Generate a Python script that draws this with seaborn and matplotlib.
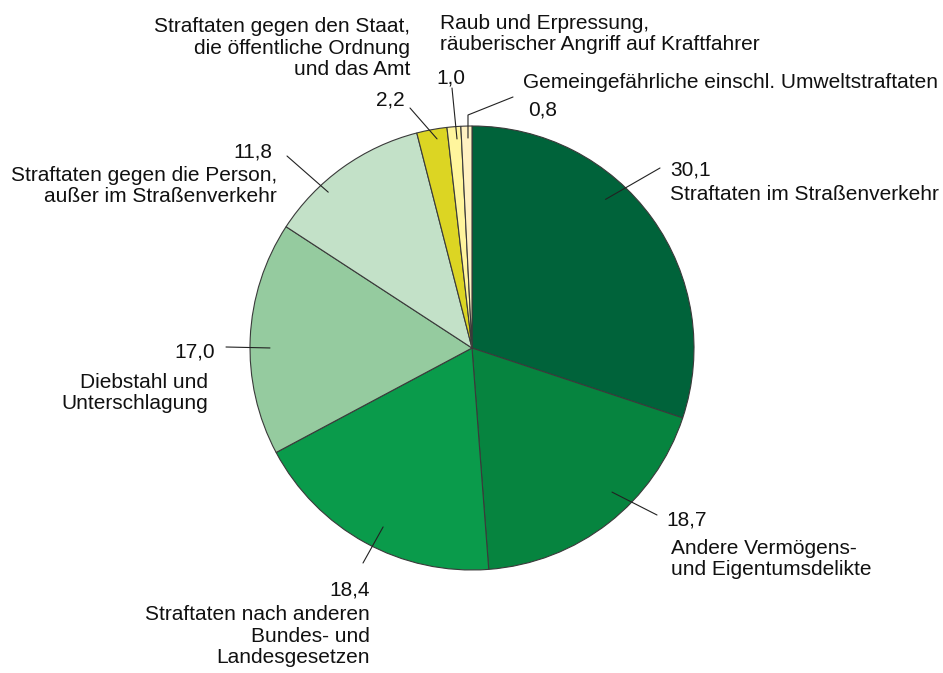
import numpy as np
import matplotlib
matplotlib.use("Agg")
import matplotlib.pyplot as plt
import seaborn as sns

# Anteile der Straftaten (in %)
categories = [
    "Straftaten im Straßenverkehr",
    "Andere Vermögens-\nund Eigentumsdelikte",
    "Straftaten nach anderen\nBundes- und\nLandesgesetzen",
    "Diebstahl und\nUnterschlagung",
    "Straftaten gegen die Person,\naußer im Straßenverkehr",
    "Straftaten gegen den Staat,\ndie öffentliche Ordnung\nund das Amt",
    "Raub und Erpressung,\nräuberischer Angriff auf Kraftfahrer",
    "Gemeingefährliche einschl. Umweltstraftaten",
]
values = [30.1, 18.7, 18.4, 17.0, 11.8, 2.2, 1.0, 0.8]
value_labels = ["30,1", "18,7", "18,4", "17,0", "11,8", "2,2", "1,0", "0,8"]
colors = ["#00633a", "#06843f", "#0a9b4b", "#95cb9f",
          "#c3e1c8", "#dcd523", "#fff59d", "#fff1c2"]

sns.set_style("white")
plt.rcParams["font.family"] = ["Liberation Sans", "DejaVu Sans"]

W, H = 943, 673
fig = plt.figure(figsize=(W / 100, H / 100), dpi=100)
ax = fig.add_axes([0, 0, 1, 1])
ax.axis("off")


def py(y):
    # pixel row -> data y
    return H - y


cx, cy, R = 472, py(348), 222
wedges, _ = ax.pie(values, colors=sns.color_palette(colors), startangle=90,
                   counterclock=False, center=(cx, cy), radius=R,
                   wedgeprops=dict(edgecolor="#3a3a3a", linewidth=0.8))
ax.set_xlim(0, W)
ax.set_ylim(0, H)
ax.set_aspect("equal")

# leader lines: (fraction along wedge, radial fraction, end point in px)
leaders = [
    (0.387, 0.90, (660, 168)),
    (0.408, 0.905, (657, 515)),
    (0.464, 0.90, (363, 563)),
    (0.459, 0.91, (226, 347)),
    (0.334, 0.955, (287, 156)),
    (0.62, 0.955, (410, 108)),
    (0.66, 0.944, (452, 88)),
    (0.62, 0.946, None),
]
for w, (f, rf, end) in zip(wedges, leaders):
    a = np.radians(w.theta2 - f * (w.theta2 - w.theta1))
    x0, y0 = cx + rf * R * np.cos(a), cy + rf * R * np.sin(a)
    if end is None:
        ax.plot([x0, x0, 513], [y0, py(115), py(97)], color="#222222", lw=0.8)
    else:
        ax.plot([x0, end[0]], [y0, py(end[1])], color="#222222", lw=0.8)

fs = 15
txt = dict(fontsize=fs, color="#111111", linespacing=1.15, va="baseline")

# value labels
ax.text(670, py(175), value_labels[0], ha="left", **txt)
ax.text(666, py(525), value_labels[1], ha="left", **txt)
ax.text(370, py(595), value_labels[2], ha="right", **txt)
ax.text(215, py(357), value_labels[3], ha="right", **txt)
ax.text(272, py(158), value_labels[4], ha="right", **txt)
ax.text(405, py(106), value_labels[5], ha="right", **txt)
ax.text(451, py(83), value_labels[6], ha="center", **txt)
ax.text(528, py(115), value_labels[7], ha="left", **txt)

# category labels (baseline = last line)
ax.text(670, py(200), categories[0], ha="left", **txt)
ax.text(671, py(575), categories[1], ha="left", multialignment="left", **txt)
ax.text(370, py(663), categories[2], ha="right", multialignment="right", **txt)
ax.text(208, py(409), categories[3], ha="right", multialignment="right", **txt)
ax.text(277, py(202), categories[4], ha="right", multialignment="right", **txt)
ax.text(410, py(75), categories[5], ha="right", multialignment="right", **txt)
ax.text(440, py(50), categories[6], ha="left", multialignment="left", **txt)
ax.text(523, py(88), categories[7], ha="left", **txt)

fig.savefig("out.png", dpi=100, facecolor="white")
